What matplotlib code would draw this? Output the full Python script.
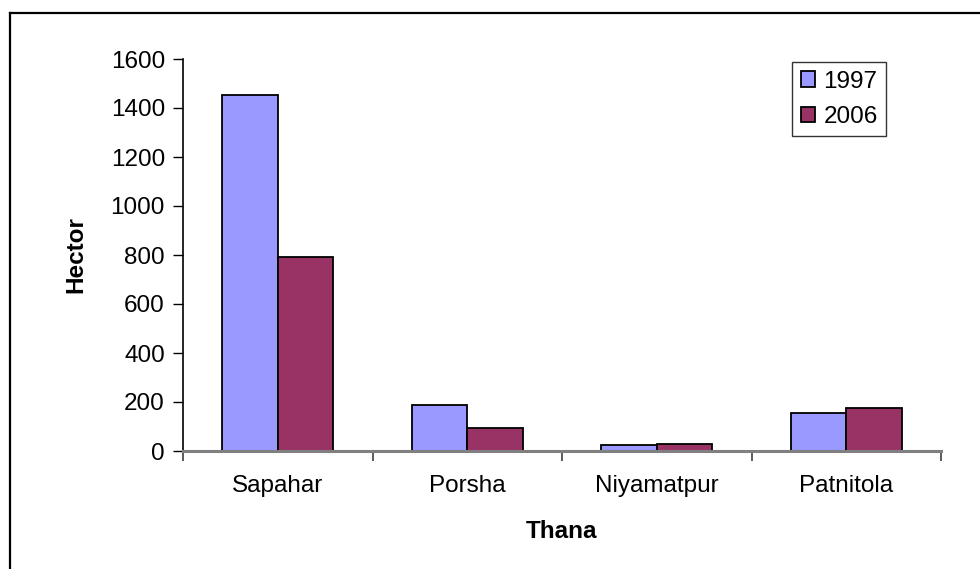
import numpy as np
import matplotlib
matplotlib.use("Agg")
import matplotlib.pyplot as plt
from matplotlib.lines import Line2D

plt.rcParams['font.family'] = ['Liberation Sans', 'DejaVu Sans']

thanas = ['Sapahar', 'Porsha', 'Niyamatpur', 'Patnitola']
years = ['1997', '2006']
values_1997 = [1453, 188, 23, 157]
values_2006 = [790, 92, 30, 176]
colors = ['#9999FF', '#993366']

FS = 17.5


def main():
    fig = plt.figure(figsize=(9.8, 5.69), dpi=100)
    ax = fig.add_axes([183 / 980, 118 / 569, 758 / 980, 392 / 569])

    x = np.arange(len(thanas))
    width = 0.294
    for i, (vals, year) in enumerate(zip([values_1997, values_2006], years)):
        ax.bar(x + (i - 0.5) * width, vals, width, color=colors[i],
               edgecolor='black', linewidth=1.3, label=year, zorder=3)

    ax.set_xlim(-0.5, len(thanas) - 0.5)
    ax.set_ylim(0, 1600)
    ax.set_yticks(np.arange(0, 1601, 200))

    # ticks at category boundaries, labels at centres
    ax.set_xticks(np.arange(-0.5, len(thanas)), labels=[''] * (len(thanas) + 1))
    ax.set_xticks(x, labels=thanas, minor=True)
    ax.tick_params(axis='x', which='major', length=7, width=1.2, color='#404040')
    ax.tick_params(axis='x', which='minor', length=0, pad=17, labelsize=FS)
    ax.tick_params(axis='y', length=7, width=1, color='black', pad=6, labelsize=FS)

    for side in ['top', 'right']:
        ax.spines[side].set_visible(False)
    ax.spines['left'].set_color('black')
    ax.spines['left'].set_linewidth(1.2)
    ax.spines['bottom'].set_color('#808080')
    ax.spines['bottom'].set_linewidth(2.2)
    ax.spines['bottom'].set_zorder(4)

    ax.set_xlabel('Thana', fontsize=FS, fontweight='bold', labelpad=17)
    ax.set_ylabel('Hector', fontsize=FS, fontweight='bold', labelpad=17)

    leg = ax.legend(loc='upper left', bbox_to_anchor=(792 / 980, 1 - 62 / 569),
                    bbox_transform=fig.transFigure, fontsize=FS, frameon=True,
                    fancybox=False, edgecolor='black', handlelength=0.6,
                    handleheight=0.6, handletextpad=0.35, labelspacing=0.55,
                    borderpad=0.35, borderaxespad=0)
    leg.get_frame().set_linewidth(1.0)

    # outer chart frame (cut off at right and bottom)
    fx, fy = 10 / 980, 1 - 13 / 569
    fig.add_artist(Line2D([fx, fx], [0, fy], color='black', linewidth=1.6))
    fig.add_artist(Line2D([fx, 1], [fy, fy], color='black', linewidth=1.6))

    fig.savefig('out.png', dpi=100)


if __name__ == '__main__':
    main()
